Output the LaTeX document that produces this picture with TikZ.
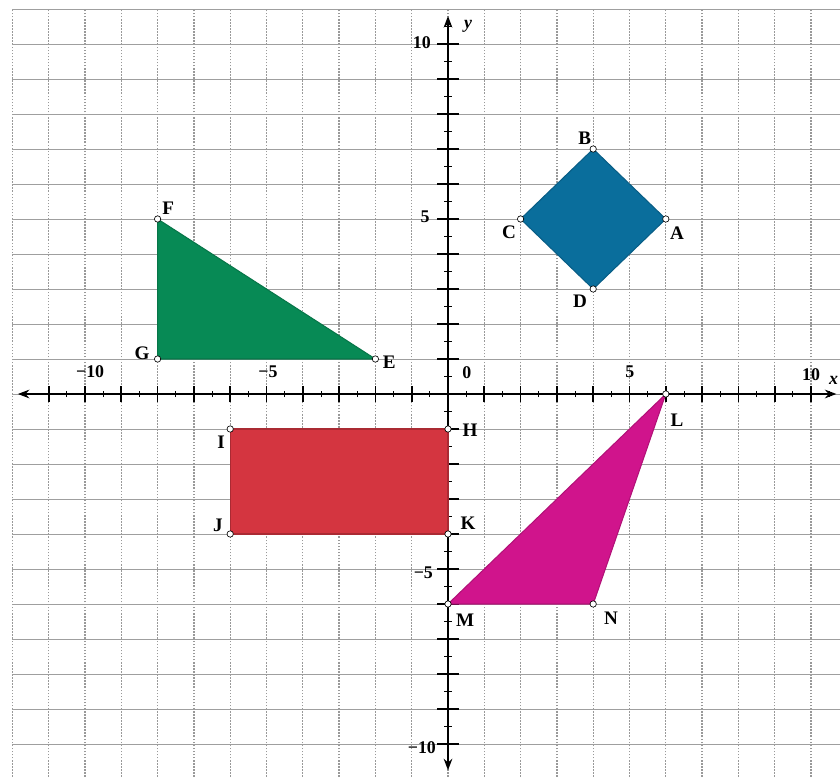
\documentclass[tikz,border=0pt]{standalone}
\usepackage{fontspec}
\setmainfont{Liberation Serif}
\usetikzlibrary{arrows.meta}
\definecolor{rhombblue}{RGB}{10,110,156}
\definecolor{trigreen}{RGB}{7,138,85}
\definecolor{rectred}{RGB}{212,53,64}
\definecolor{trimagenta}{RGB}{208,20,140}
\begin{document}
\begin{tikzpicture}[x=1cm, y=0.9642cm,
	gridv/.style={gray!80, line width=1pt, dash pattern=on 1.2pt off 1.2pt},
	gridh/.style={gray!75, line width=0.7pt},
	figure/.style={line width=0.8pt, line join=round},
	vtx/.style={circle, draw=black, fill=white, line width=0.5pt, inner sep=0pt, minimum size=5pt},
	lbl/.style={font=\fontsize{15}{17}\selectfont\bfseries, inner sep=0pt},
	num/.style={font=\fontsize{14}{16}\selectfont\bfseries, inner sep=0pt}]
	\useasboundingbox (-12.342,-10.971) rectangle (10.799,11.257);
	% grid
	\foreach \x in {-12,...,10}
		\draw[gridv] (\x,-11.2) -- (\x,11);
	\foreach \y in {-11,...,11}
		\draw[gridh] (-12,\y) -- (11,\y);
	% axes with ticks
	\draw[line width=1.6pt, {Stealth[length=9pt]}-{Stealth[length=9pt]}] (-11.85,0) -- (10.7,0);
	\draw[line width=1.6pt, {Stealth[length=9pt]}-{Stealth[length=9pt]}] (0,-10.75) -- (0,10.8);
	\foreach \t in {-11,...,10} {
		\draw[line width=1.3pt] (\t,-0.24) -- (\t,0.24);
		\draw[line width=0.6pt] (\t+0.5,-0.09) -- (\t+0.5,0.09);
	}
	\foreach \t in {-10,...,10} {
		\draw[line width=1.3pt] (-0.3,\t) -- (0.3,\t);
		\draw[line width=0.6pt] (-0.1,\t+0.5) -- (0.1,\t+0.5);
	}
	\node[num] (xm10) at (-9.86,0.63) {−10};
	\node[num] (xm5) at (-4.96,0.63) {−5};
	\node[num] (x0) at (0.52,0.60) {0};
	\node[num] (x5) at (5.01,0.63) {5};
	\node[num] (x10) at (10.0,0.56) {10};
	\node[num, font=\fontsize{14}{16}\selectfont\bfseries\itshape] (xlab) at (10.62,0.38) {x};
	\node[num, font=\fontsize{14}{16}\selectfont\bfseries\itshape] (ylab) at (0.55,10.51) {y};
	\node[num] (y10) at (-0.72,10.03) {10};
	\node[num] (y5) at (-0.63,5.06) {5};
	\node[num] (ym5) at (-0.68,-5.11) {−5};
	\node[num] (ym10) at (-0.72,-10.09) {−10};
	% vertices
	\coordinate (A) at (6,5);
	\coordinate (B) at (4,7);
	\coordinate (C) at (2,5);
	\coordinate (D) at (4,3);
	\coordinate (E) at (-2,1);
	\coordinate (F) at (-8,5);
	\coordinate (G) at (-8,1);
	\coordinate (H) at (0,-1);
	\coordinate (I) at (-6,-1);
	\coordinate (J) at (-6,-4);
	\coordinate (K) at (0,-4);
	\coordinate (L) at (6,0);
	\coordinate (M) at (0,-6);
	\coordinate (N) at (4,-6);
	% filled figures
	\draw[figure, fill=rhombblue, draw=rhombblue!85!black] (A) -- (B) -- (C) -- (D) -- cycle;
	\draw[figure, fill=trigreen, draw=trigreen!85!black] (E) -- (F) -- (G) -- cycle;
	\draw[figure, fill=rectred, draw=rectred!80!black] (H) -- (I) -- (J) -- (K) -- cycle;
	\draw[figure, fill=trimagenta, draw=trimagenta!85!black] (L) -- (M) -- (N) -- cycle;
	\foreach \v in {A,B,C,D,E,F,G,H,I,J,K,L,M,N}
		\node[vtx] (p\v) at (\v) {};
	% letters
	\node[lbl] (lA) at (6.31,4.60) {A};
	\node[lbl] (lB) at (3.77,7.31) {B};
	\node[lbl] (lC) at (1.68,4.63) {C};
	\node[lbl] (lD) at (3.64,2.66) {D};
	\node[lbl] (lE) at (-1.62,0.91) {E};
	\node[lbl] (lF) at (-7.71,5.31) {F};
	\node[lbl] (lG) at (-8.43,1.17) {G};
	\node[lbl] (lH) at (0.61,-1.03) {H};
	\node[lbl] (lI) at (-6.25,-1.37) {I};
	\node[lbl] (lJ) at (-6.34,-3.74) {J};
	\node[lbl] (lK) at (0.55,-3.69) {K};
	\node[lbl] (lL) at (6.31,-0.74) {L};
	\node[lbl] (lM) at (0.47,-6.46) {M};
	\node[lbl] (lN) at (4.49,-6.40) {N};
\end{tikzpicture}
\end{document}
